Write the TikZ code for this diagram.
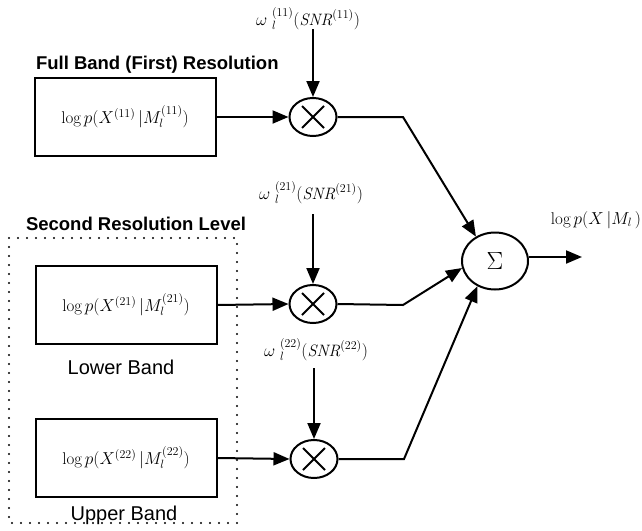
\documentclass[tikz,border=0pt]{standalone}
\usepackage{fontspec}
\setsansfont{Liberation Sans}
\usetikzlibrary{arrows.meta,shapes.geometric}
\newcommand\mycross[1]{\draw ([shift={(-11,-11)}]#1.center) -- ([shift={(11,11)}]#1.center) ([shift={(-11,11)}]#1.center) -- ([shift={(11,-11)}]#1.center);}
\begin{document}
\begin{tikzpicture}[x=1pt,y=-1pt,
  line width=2pt,
  arr/.style={-{Triangle[length=16pt,width=13pt]}},
  box/.style={draw, minimum width=181pt, minimum height=78pt, inner sep=0pt},
  mult/.style={draw, ellipse, minimum width=47pt, minimum height=38pt, inner sep=0pt},
  hd/.style={font=\sffamily\bfseries\fontsize{18.5}{20}\selectfont, inner sep=0pt},
  subl/.style={font=\sffamily\fontsize{20}{22}\selectfont, inner sep=0pt},
  eq/.style={font=\fontsize{17}{19}\selectfont, inner sep=0pt},
  wl/.style={font=\fontsize{16.5}{18}\selectfont, inner sep=0pt}]
\useasboundingbox (0,0) rectangle (642,530);

% headings
\node[hd, anchor=west] (h1) at (35,65) {Full Band (First) Resolution};
\node[hd, anchor=west] (h2) at (25,224) {Second Resolution Level};
\node[subl] (lb) at (121,367) {Lower Band};
\node[subl] (ub) at (124,515) {Upper Band};

% dotted frame
\draw[line width=2.2pt, line cap=round, dash pattern=on 0pt off 9pt] (9,238) rectangle (237,523);

% boxes
\node[box, eq] (b1) at (125,117) {$\log p(X^{(11)}\,\bigl|M_l^{(11)})$};
\node[box, eq] (b2) at (126,305) {$\log p(X^{(21)}\,\bigl|M_l^{(21)})$};
\node[box, eq] (b3) at (126,458) {$\log p(X^{(22)}\,\bigl|M_l^{(22)})$};

% multipliers
\node[mult] (m1) at (313,117) {};
\node[mult] (m2) at (313,304) {};
\node[mult] (m3) at (314,459) {};
\mycross{m1}
\mycross{m2}
\mycross{m3}

% weight labels
\node[wl] (w1) at (308,19) {$\omega\;{}_l^{(11)}(\mathit{SNR}^{(11)})$};
\node[wl] (w2) at (311,193) {$\omega\;{}_l^{(21)}(\mathit{SNR}^{(21)})$};
\node[wl] (w3) at (316,350) {$\omega\;{}_l^{(22)}(\mathit{SNR}^{(22)})$};
\coordinate (t1) at (313,29);
\coordinate (t2) at (313,214);
\coordinate (t3) at (314,368);

% sum
\node[draw, ellipse, minimum width=66pt, minimum height=57pt, inner sep=0pt,
      font=\fontsize{30}{32}\selectfont] (s) at (495,261) {$\Sigma$};
\node[eq] (out) at (596,220) {$\log p(X\,\bigl|M_l\,)$};
\coordinate (o) at (582,257);

\coordinate (c1) at (403,117);
\coordinate (c2) at (403,305);
\coordinate (c3) at (404,459);

% connectors
\draw[arr] (b1) -- (m1);
\draw[arr] (b2.east) -- (m2.west);
\draw[arr] (b3.east) -- (m3.west);
\draw[arr] (t1) -- (m1);
\draw[arr] (t2) -- (m2);
\draw[arr] (t3) -- (m3);
\draw[arr] (m1) -- (c1) -- (s.128);
\draw[arr] (m2.east) -- (c2) -- (s.192);
\draw[arr] (m3.east) -- (c3) -- (s.235);
\draw[arr] (s.east |- o) -- (o);
\end{tikzpicture}
\end{document}
